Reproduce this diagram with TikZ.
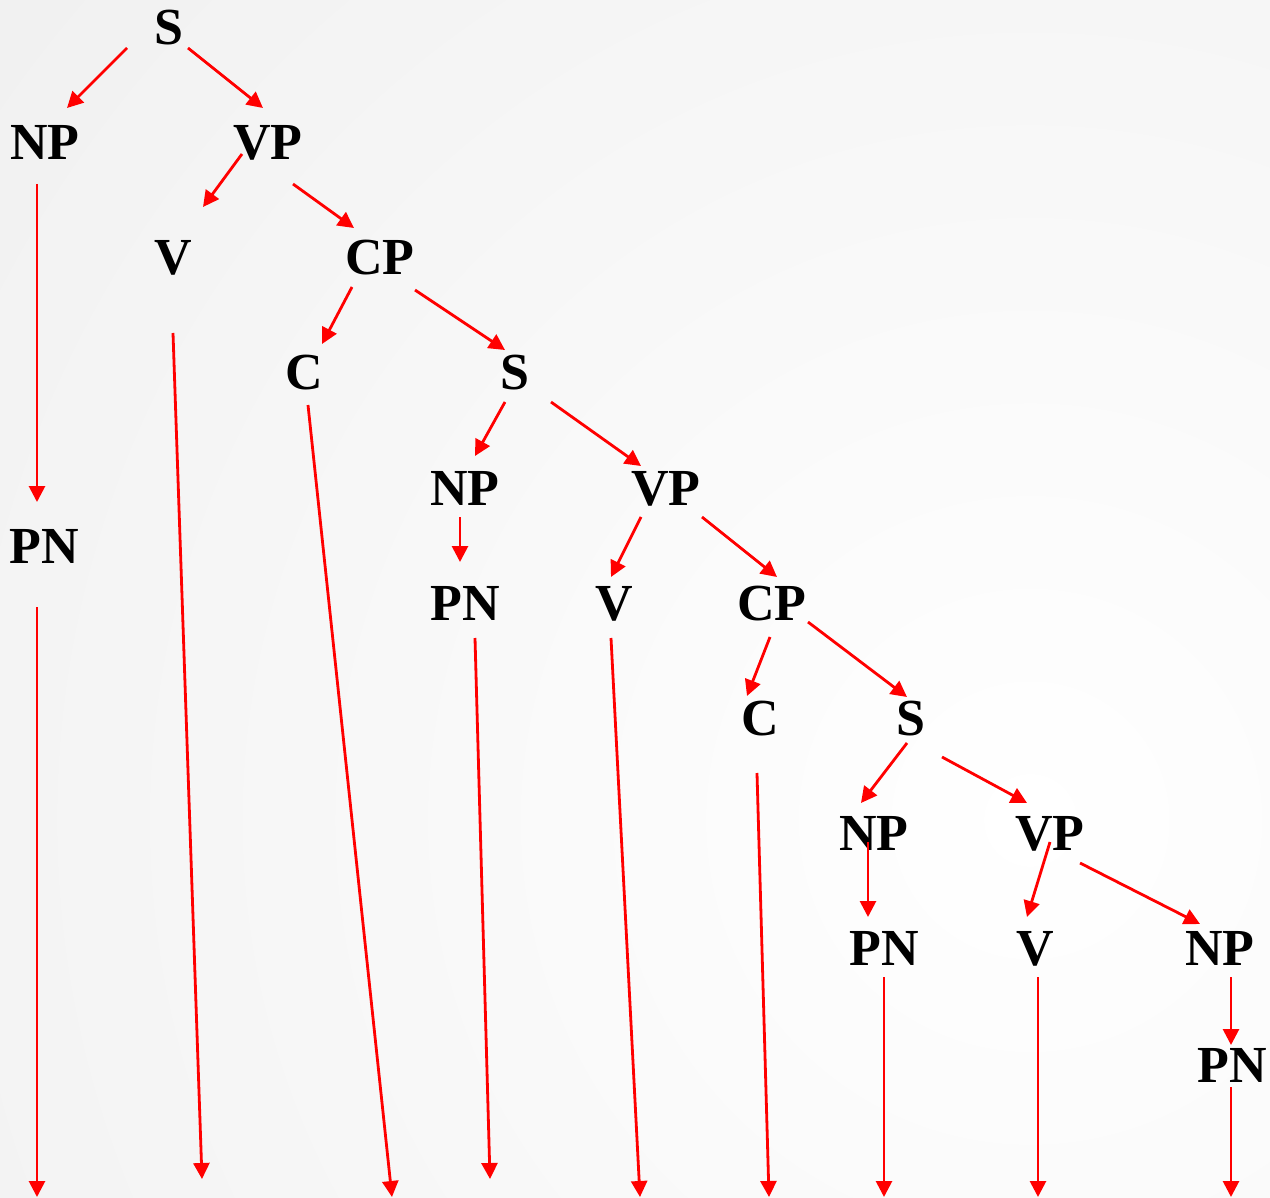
\documentclass[tikz,border=0pt]{standalone}
\usepackage{fontspec}
\setmainfont{Liberation Serif}
\usetikzlibrary{arrows.meta}
\tikzset{
  lbl/.style={inner sep=0pt, anchor=base, font=\fontsize{52}{60}\selectfont\bfseries, text=black},
  arr/.style={draw=red, line width=2.8pt, -{Triangle[length=16pt,width=16pt,fill=red]}}
}
\begin{document}
\begin{tikzpicture}[x=1pt,y=-1pt]
\useasboundingbox (0,0) rectangle (1270,1198);
\begin{scope}
\clip (0,0) rectangle (1270,1198);
\shade[inner color=white, outer color=black!11] (1030,820) circle (2600);
\end{scope}
% nodes
\node[lbl] (S1)  at (169,45)   {S};
\node[lbl] (NP1) at (45,160)   {NP};
\node[lbl] (VP1) at (268,160)  {VP};
\node[lbl] (V1)  at (173,275)  {V};
\node[lbl] (CP1) at (380,275)  {CP};
\node[lbl] (C1)  at (304,390)  {C};
\node[lbl] (S2)  at (515,390)  {S};
\node[lbl] (NP2) at (465,505)  {NP};
\node[lbl] (VP2) at (666,505)  {VP};
\node[lbl] (PN1) at (44,563)   {PN};
\node[lbl] (PN2) at (465,620)  {PN};
\node[lbl] (V2)  at (614,620)  {V};
\node[lbl] (CP2) at (772,620)  {CP};
\node[lbl] (C2)  at (760,735)  {C};
\node[lbl] (S3)  at (911,735)  {S};
\node[lbl] (NP3) at (874,850)  {NP};
\node[lbl] (VP3) at (1050,850) {VP};
\node[lbl] (PN3) at (884,965)  {PN};
\node[lbl] (V3)  at (1035,965) {V};
\node[lbl] (NP4) at (1220,965) {NP};
\node[lbl] (PN4) at (1232,1082){PN};
% free ends at the bottom
\coordinate (b1)  at (202,1179);
\coordinate (b2)  at (392,1197);
\coordinate (b3)  at (37,1197);
\coordinate (b4)  at (490,1179);
\coordinate (b5)  at (640,1197);
\coordinate (b6)  at (769,1197);
\coordinate (b7)  at (884,1197);
\coordinate (b8)  at (1038,1197);
\coordinate (b9)  at (1231,1197);
% connectors
\draw[arr] ([shift={(-42,3)}]S1.base) -- ([shift={(22,-52)}]NP1.base);
\draw[arr] ([shift={(19,3)}]S1.base) -- ([shift={(-5,-52)}]VP1.base);
\draw[arr] ([shift={(-8,24)}]NP1.base) -- ([shift={(-7,-61)}]PN1.base);
\draw[arr] ([shift={(-26,-6)}]VP1.base) -- ([shift={(30,-68)}]V1.base);
\draw[arr] ([shift={(25,24)}]VP1.base) -- ([shift={(-26,-47)}]CP1.base);
\draw[arr] ([shift={(0,58)}]V1.base) -- (b1);
\draw[arr] ([shift={(-28,12)}]CP1.base) -- ([shift={(18,-46)}]C1.base);
\draw[arr] ([shift={(35,15)}]CP1.base) -- ([shift={(-10,-40)}]S2.base);
\draw[arr] ([shift={(4,15)}]C1.base) -- (b2);
\draw[arr] ([shift={(-10,12)}]S2.base) -- ([shift={(10,-49)}]NP2.base);
\draw[arr] ([shift={(36,12)}]S2.base) -- ([shift={(-25,-39)}]VP2.base);
\draw[arr] ([shift={(-5,12)}]NP2.base) -- ([shift={(-5,-58)}]PN2.base);
\draw[arr] ([shift={(-25,12)}]VP2.base) -- ([shift={(-3,-43)}]V2.base);
\draw[arr] ([shift={(36,12)}]VP2.base) -- ([shift={(5,-43)}]CP2.base);
\draw[arr] ([shift={(-7,44)}]PN1.base) -- (b3);
\draw[arr] ([shift={(10,18)}]PN2.base) -- (b4);
\draw[arr] ([shift={(-3,18)}]V2.base) -- (b5);
\draw[arr] ([shift={(-2,17)}]CP2.base) -- ([shift={(-13,-39)}]C2.base);
\draw[arr] ([shift={(36,2)}]CP2.base) -- ([shift={(-4,-38)}]S3.base);
\draw[arr] ([shift={(-3,38)}]C2.base) -- (b6);
\draw[arr] ([shift={(-4,8)}]S3.base) -- ([shift={(-13,-47)}]NP3.base);
\draw[arr] ([shift={(31,22)}]S3.base) -- ([shift={(-23,-47)}]VP3.base);
\draw[arr] ([shift={(-6,-8)}]NP3.base) -- ([shift={(-16,-48)}]PN3.base);
\draw[arr] ([shift={(0,-8)}]VP3.base) -- ([shift={(-8,-48)}]V3.base);
\draw[arr] ([shift={(30,13)}]VP3.base) -- ([shift={(-20,-41)}]NP4.base);
\draw[arr] ([shift={(0,12)}]PN3.base) -- (b7);
\draw[arr] ([shift={(3,12)}]V3.base) -- (b8);
\draw[arr] ([shift={(11,12)}]NP4.base) -- ([shift={(-1,-37)}]PN4.base);
\draw[arr] ([shift={(-1,5)}]PN4.base) -- (b9);
\end{tikzpicture}
\end{document}
